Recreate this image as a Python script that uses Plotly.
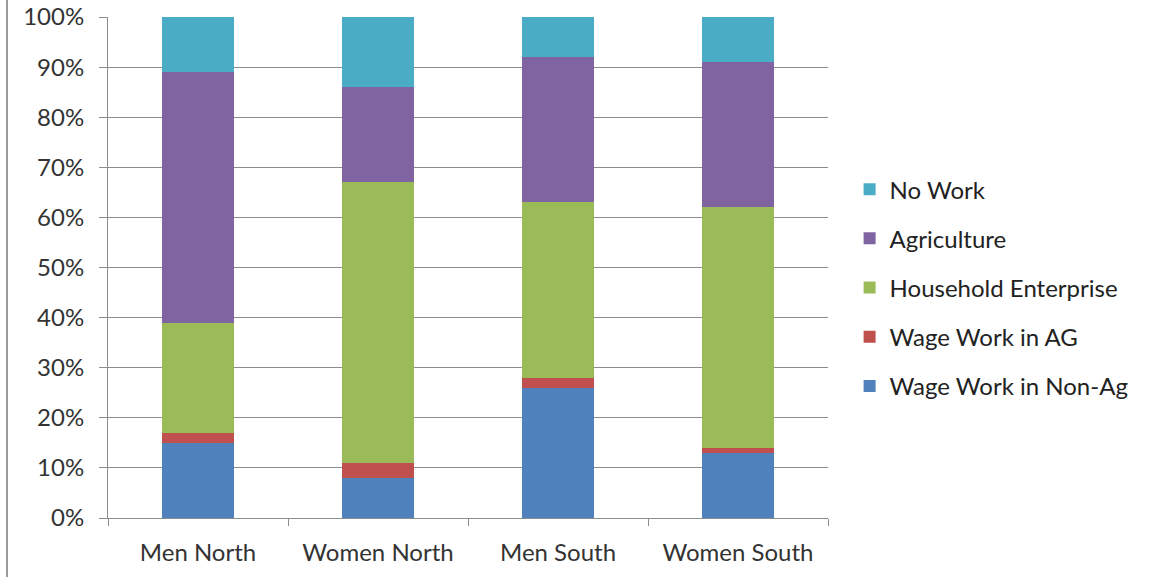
import plotly.graph_objects as go

categories = ["Men North", "Women North", "Men South", "Women South"]
wage_non_ag = [15, 8, 26, 13]
wage_ag = [2, 3, 2, 1]
household_ent = [22, 56, 35, 48]
agriculture = [50, 19, 29, 29]
no_work = [11, 14, 8, 9]

series = [
    ("Wage Work in Non-Ag", wage_non_ag, "#4F81BD"),
    ("Wage Work in AG", wage_ag, "#C0504D"),
    ("Household Enterprise", household_ent, "#9BBB59"),
    ("Agriculture", agriculture, "#8064A2"),
    ("No Work", no_work, "#4BACC6"),
]

FONT = "Lato, 'Open Sans', sans-serif"
FS = 24

fig = go.Figure()
n = len(series)
for i, (name, vals, color) in enumerate(series):
    fig.add_trace(go.Bar(
        x=categories, y=[v / 100 for v in vals], name=name,
        marker=dict(color=color, line=dict(width=0)),
        legendgroup=f"g{i}", legendrank=n - i,
    ))

W, H = 1150, 581
L, R, T, B = 108, 828, 17, 518

fig.update_layout(
    width=W, height=H,
    barmode="stack", bargap=0.6,
    margin=dict(l=L, r=W - R, t=T, b=H - B, pad=0, autoexpand=False),
    paper_bgcolor="white", plot_bgcolor="white",
    font=dict(family=FONT, size=FS, color="#333333"),
    legend=dict(
        traceorder="grouped", tracegroupgap=15,
        x=1.03, xanchor="left", xref="paper",
        y=0.46, yanchor="middle",
        font=dict(family=FONT, size=FS, color="#222222"),
        itemwidth=30, bgcolor="rgba(0,0,0,0)",
    ),
    showlegend=True,
    xaxis=dict(
        showgrid=False, showline=True, linecolor="#8c8c8c", linewidth=1,
        ticks="outside", tickson="boundaries", ticklen=7, tickcolor="#8c8c8c",
        ticklabelstandoff=13, automargin=False,
        tickfont=dict(family=FONT, size=FS, color="#333333"),
    ),
    yaxis=dict(
        range=[0, 1], tickvals=[i / 10 for i in range(11)],
        tickformat=".0%", showgrid=True, gridcolor="#8c8c8c", gridwidth=1,
        showline=True, linecolor="#8c8c8c", linewidth=1,
        ticks="outside", ticklen=8, tickcolor="#8c8c8c",
        ticklabelstandoff=10, zeroline=False, automargin=False,
        tickfont=dict(family=FONT, size=FS, color="#333333"),
    ),
)

# left frame border of the original chart image
fig.add_shape(
    type="line", xref="paper", yref="paper",
    x0=(7 - L) / (R - L), x1=(7 - L) / (R - L),
    y0=(B - 0) / (B - T), y1=(B - 577) / (B - T),
    line=dict(color="#9a9a9a", width=2),
)

fig.write_html("out.html")
